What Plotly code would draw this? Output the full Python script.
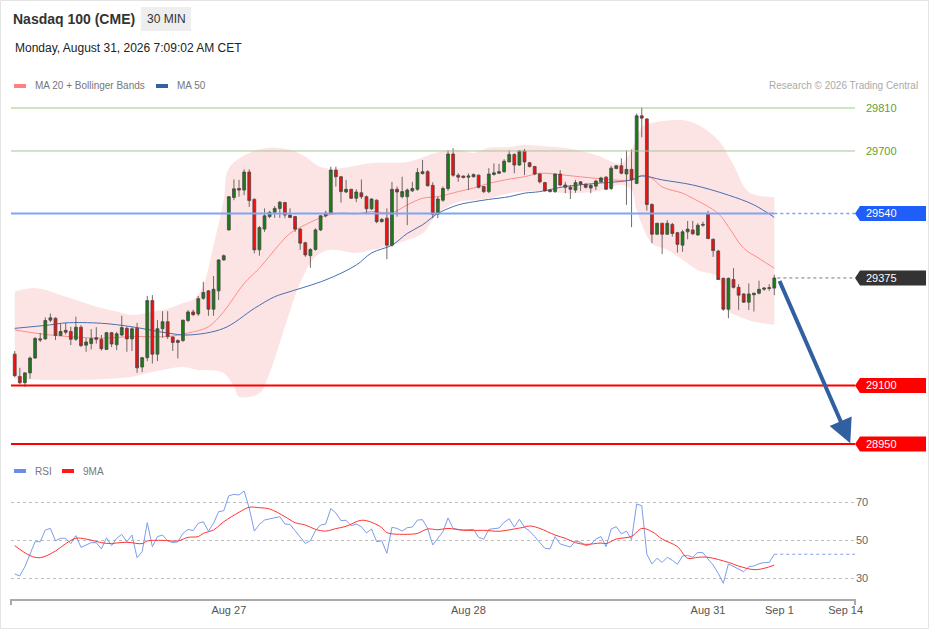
import plotly.graph_objects as go

# ---- data (30 min bars, Nasdaq 100 futures) ----
opens = [29180, 29123, 29107, 29132, 29170, 29216, 29219, 29267, 29272, 29228,
         29241, 29238, 29218, 29249, 29203, 29207, 29222, 29218, 29192, 29235,
         29204, 29229, 29246, 29219, 29246, 29147, 29171, 29317, 29180, 29245,
         29263, 29224, 29215, 29215, 29266, 29288, 29283, 29323, 29342, 29295,
         29342, 29421, 29498, 29581, 29604, 29600, 29646, 29576, 29447, 29500,
         29532, 29543, 29553, 29568, 29536, 29532, 29500, 29465, 29432, 29448,
         29498, 29534, 29541, 29651, 29634, 29595, 29602, 29579, 29593, 29583,
         29552, 29574, 29519, 29528, 29459, 29602, 29583, 29583, 29598, 29602,
         29642, 29647, 29612, 29538, 29574, 29604, 29692, 29638, 29636, 29633,
         29634, 29638, 29609, 29596, 29640, 29643, 29647, 29672, 29691, 29664,
         29700, 29670, 29660, 29641, 29619, 29596, 29596, 29641, 29613, 29607,
         29600, 29621, 29615, 29605, 29610, 29621, 29633, 29604, 29655, 29662,
         29641, 29653, 29617, 29790, 29782, 29563, 29487, 29515, 29487, 29512,
         29491, 29459, 29493, 29498, 29485, 29510, 29538, 29474, 29444, 29374,
         29295, 29371, 29351, 29334, 29313, 29332, 29336, 29346, 29348, 29349]
highs = [29188, 29145, 29134, 29174, 29224, 29234, 29274, 29284, 29274, 29259,
         29260, 29250, 29276, 29254, 29221, 29244, 29249, 29229, 29237, 29237,
         29237, 29278, 29250, 29249, 29260, 29173, 29329, 29331, 29267, 29290,
         29290, 29225, 29218, 29268, 29293, 29294, 29329, 29365, 29344, 29380,
         29423, 29435, 29585, 29627, 29626, 29653, 29653, 29579, 29508, 29553,
         29547, 29559, 29572, 29570, 29553, 29534, 29502, 29468, 29451, 29502,
         29536, 29547, 29660, 29660, 29636, 29626, 29603, 29602, 29627, 29586,
         29579, 29576, 29528, 29553, 29621, 29609, 29634, 29604, 29621, 29656,
         29677, 29651, 29620, 29583, 29609, 29702, 29707, 29643, 29637, 29643,
         29642, 29640, 29610, 29656, 29668, 29667, 29679, 29702, 29694, 29702,
         29705, 29672, 29662, 29643, 29621, 29602, 29643, 29651, 29621, 29613,
         29626, 29623, 29617, 29615, 29626, 29634, 29636, 29662, 29664, 29681,
         29702, 29704, 29796, 29811, 29784, 29566, 29516, 29516, 29523, 29516,
         29493, 29498, 29521, 29521, 29515, 29519, 29547, 29476, 29447, 29376,
         29376, 29400, 29359, 29336, 29361, 29337, 29368, 29352, 29359, 29383]
lows = [29121, 29103, 29096, 29117, 29168, 29211, 29217, 29262, 29216, 29226,
        29230, 29203, 29214, 29198, 29186, 29192, 29207, 29189, 29191, 29198,
        29190, 29226, 29186, 29188, 29132, 29134, 29162, 29156, 29162, 29222,
        29219, 29188, 29169, 29211, 29262, 29278, 29278, 29319, 29278, 29278,
        29319, 29419, 29496, 29574, 29583, 29587, 29557, 29438, 29432, 29493,
        29528, 29529, 29529, 29528, 29528, 29493, 29447, 29429, 29401, 29445,
        29495, 29530, 29539, 29609, 29568, 29592, 29577, 29569, 29577, 29538,
        29549, 29515, 29517, 29423, 29455, 29532, 29579, 29510, 29595, 29598,
        29640, 29609, 29528, 29528, 29570, 29598, 29634, 29621, 29630, 29600,
        29632, 29604, 29592, 29592, 29637, 29641, 29644, 29671, 29643, 29662,
        29638, 29658, 29638, 29617, 29596, 29594, 29593, 29610, 29592, 29577,
        29593, 29598, 29604, 29592, 29600, 29619, 29600, 29600, 29653, 29640,
        29562, 29505, 29615, 29735, 29547, 29464, 29485, 29436, 29485, 29481,
        29440, 29442, 29474, 29485, 29483, 29506, 29474, 29429, 29370, 29291,
        29272, 29348, 29293, 29311, 29293, 29289, 29333, 29342, 29342, 29331]
closes = [29125, 29107, 29132, 29170, 29220, 29219, 29266, 29273, 29228, 29238,
          29236, 29218, 29249, 29202, 29211, 29220, 29218, 29194, 29235, 29206,
          29232, 29248, 29219, 29245, 29145, 29171, 29317, 29180, 29245, 29263,
          29225, 29210, 29210, 29267, 29288, 29281, 29322, 29338, 29295, 29346,
          29421, 29432, 29583, 29603, 29600, 29646, 29573, 29447, 29504, 29534,
          29543, 29553, 29569, 29536, 29530, 29500, 29464, 29434, 29448, 29498,
          29534, 29541, 29651, 29634, 29596, 29602, 29579, 29595, 29583, 29552,
          29577, 29519, 29525, 29459, 29602, 29595, 29596, 29600, 29604, 29645,
          29647, 29611, 29538, 29577, 29604, 29692, 29638, 29633, 29632, 29636,
          29640, 29607, 29596, 29641, 29644, 29647, 29674, 29691, 29664, 29700,
          29672, 29660, 29641, 29621, 29598, 29600, 29641, 29613, 29607, 29602,
          29619, 29615, 29607, 29612, 29623, 29631, 29602, 29656, 29662, 29643,
          29653, 29626, 29790, 29784, 29563, 29487, 29515, 29487, 29515, 29489,
          29461, 29493, 29500, 29488, 29510, 29512, 29476, 29445, 29371, 29295,
          29374, 29351, 29331, 29313, 29334, 29336, 29346, 29349, 29350, 29375]
bar_index = list(range(len(closes)))

# moving averages / bands, read at sample bars
ma20_idx = [0, 7, 17, 23, 30, 34, 38, 41, 45, 48, 51, 54, 57, 61, 64, 67, 70, 74, 77, 80,
            83, 87, 90, 93, 97, 100, 103, 108, 114, 121, 123, 125, 127, 131, 133, 138,
            140, 143, 146, 149]
ma20_val = [29242, 29229, 29221, 29225, 29225, 29234, 29250, 29289, 29361, 29400,
            29447, 29489, 29511, 29534, 29541, 29539, 29545, 29542, 29562, 29579,
            29583, 29596, 29605, 29617, 29628, 29634, 29643, 29638, 29630, 29626,
            29638, 29630, 29608, 29592, 29579, 29540, 29506, 29451, 29425, 29400]
ma50_idx = [0, 7, 10, 17, 23, 30, 34, 41, 47, 51, 54, 61, 67, 70, 74, 77, 80, 83, 87,
            90, 93, 97, 100, 103, 108, 114, 121, 123, 127, 133, 140, 145, 149]
ma50_val = [29246, 29255, 29260, 29259, 29250, 29234, 29229, 29246, 29297, 29327,
            29340, 29370, 29408, 29439, 29459, 29489, 29511, 29540, 29562, 29570,
            29576, 29583, 29592, 29596, 29609, 29617, 29626, 29636, 29626, 29613,
            29587, 29562, 29530]
bb_up_idx = [0, 4, 10, 17, 20, 23, 27, 30, 33, 35, 37, 39, 41, 42, 46, 50, 54, 57, 60,
             64, 70, 77, 83, 87, 90, 93, 97, 100, 103, 108, 114, 119, 121, 123, 125,
             131, 134, 138, 141, 144, 149]
bb_up_val = [29340, 29349, 29327, 29298, 29289, 29280, 29289, 29296, 29311, 29319,
             29357, 29459, 29574, 29656, 29695, 29708, 29703, 29685, 29659, 29656,
             29669, 29672, 29697, 29703, 29695, 29708, 29710, 29715, 29713, 29708,
             29690, 29669, 29703, 29761, 29772, 29779, 29767, 29728, 29664, 29595,
             29582]
bb_lo_idx = [0, 7, 17, 23, 27, 33, 36, 38, 41, 43, 44, 48, 50, 53, 56, 59, 62, 67, 70,
             74, 77, 80, 83, 87, 90, 93, 97, 100, 103, 108, 114, 119, 121, 122, 125,
             128, 131, 134, 138, 139, 144, 149]
bb_lo_val = [29116, 29114, 29116, 29122, 29134, 29147, 29139, 29139, 29132, 29097,
             29071, 29080, 29132, 29250, 29362, 29429, 29447, 29439, 29447, 29459,
             29472, 29489, 29540, 29570, 29574, 29579, 29592, 29596, 29598, 29592,
             29596, 29613, 29600, 29549, 29464, 29447, 29421, 29395, 29377, 29301,
             29267, 29255]

rsi = [32.1, 31.1, 36.0, 42.1, 49.1, 49.1, 55.3, 56.1, 49.6, 50.9,
       50.9, 48.1, 52.3, 46.1, 47.4, 48.6, 48.6, 45.3, 51.2, 47.0,
       50.9, 53.0, 49.1, 52.6, 40.7, 43.9, 59.1, 46.5, 51.8, 52.6,
       49.6, 48.6, 49.1, 53.5, 55.6, 54.9, 58.8, 59.6, 54.7, 58.8,
       64.9, 65.4, 73.3, 74.0, 73.7, 75.8, 66.7, 54.7, 58.2, 60.5,
       61.1, 61.6, 62.3, 58.4, 58.2, 54.9, 51.4, 48.2, 49.6, 54.9,
       57.9, 58.4, 66.5, 64.2, 60.2, 60.4, 57.5, 58.4, 57.0, 53.7,
       55.8, 49.1, 49.6, 43.0, 56.7, 56.1, 54.7, 56.5, 56.8, 60.5,
       60.7, 56.1, 47.4, 50.9, 54.4, 61.6, 56.1, 55.6, 55.3, 55.4,
       55.6, 51.4, 50.4, 55.6, 56.0, 56.3, 59.3, 61.2, 56.8, 60.9,
       56.7, 54.7, 51.8, 48.8, 45.6, 45.3, 51.8, 47.9, 47.2, 46.3,
       49.5, 48.8, 47.0, 47.7, 50.5, 51.8, 46.5, 55.8, 57.0, 53.2,
       54.7, 50.2, 68.9, 68.1, 42.5, 37.4, 40.4, 38.2, 40.9, 39.3,
       37.2, 41.6, 41.9, 40.9, 43.5, 43.3, 40.0, 36.8, 32.5, 27.2,
       37.4, 36.0, 34.7, 33.3, 36.0, 36.3, 37.5, 38.1, 38.2, 42.5]
rsi_ma_idx = [0, 3, 5, 8, 10, 12, 14, 18, 22, 25, 26, 29, 32, 34, 36, 37, 39, 41, 44,
              46, 48, 50, 53, 55, 57, 59, 61, 63, 65, 68, 70, 72, 73, 77, 79, 81, 83,
              85, 88, 92, 95, 98, 100, 101, 103, 106, 108, 110, 112, 115, 116, 118,
              121, 123, 125, 127, 130, 132, 134, 136, 140, 142, 145, 147, 149]
rsi_ma_val = [47.0, 41.8, 40.7, 44.2, 48.1, 50.9, 50.5, 48.2, 48.8, 48.1, 49.5, 49.8,
              49.5, 51.4, 51.8, 53.5, 55.3, 59.6, 64.6, 67.2, 67.0, 66.3, 62.3, 59.1,
              57.9, 55.6, 54.7, 56.0, 57.2, 60.4, 59.3, 56.5, 53.9, 53.0, 53.5, 55.8,
              55.4, 56.1, 55.1, 55.1, 54.6, 55.8, 56.8, 57.4, 56.1, 52.6, 50.9, 48.6,
              47.7, 48.4, 48.1, 50.5, 51.9, 56.1, 54.4, 50.5, 46.5, 40.4, 40.9, 40.9,
              38.2, 36.3, 34.4, 35.1, 36.8]

tick_labels = ["Aug 27", "Aug 28", "Aug 31", "Sep 1", "Sep 14"]
tick_index = [42, 89, 136, 150, 163]

resistances = [29810, 29700]
pivot = 29540
supports = [29100, 28950]
last_price = closes[-1]

# ---- layout helpers (pixel -> paper) ----
W, H = 929, 629
ML, MR, MB = 11, 74, 30
PW = W - ML - MR
PH = H - MB
X_RANGE = [-0.73, 164.83]


def px(x):
    return (x - ML) / PW


def py(y):
    return (PH - y) / PH


FONT = "Liberation Sans, Arial, sans-serif"
last_i = bar_index[-1]
p_top = 29810 + (108 - 95) * 2.5595
p_bot = 28950 - (455 - 444) * 2.5595

fig = go.Figure()

# bollinger band area
fig.add_trace(go.Scatter(x=bb_lo_idx, y=bb_lo_val, mode="lines", line=dict(width=0, shape="spline"),
                         hoverinfo="skip", showlegend=False))
fig.add_trace(go.Scatter(x=bb_up_idx, y=bb_up_val, mode="lines", line=dict(width=0, shape="spline"),
                         fill="tonexty", fillcolor="rgba(252,205,205,0.55)", hoverinfo="skip",
                         showlegend=False))
fig.add_trace(go.Scatter(x=ma20_idx, y=ma20_val, mode="lines",
                         line=dict(color="#ff8c8c", width=1, shape="spline"), showlegend=False))
fig.add_trace(go.Scatter(x=ma50_idx, y=ma50_val, mode="lines",
                         line=dict(color="#4a6fb0", width=1, shape="spline"), showlegend=False))

# candles on an overlay axis so they sit above the band fill
fig.add_trace(go.Candlestick(
    x=bar_index, open=opens, high=highs, low=lows, close=closes, xaxis="x3", yaxis="y3",
    increasing=dict(line=dict(color="#4d4646", width=0.8), fillcolor="#177d17"),
    decreasing=dict(line=dict(color="#4d4646", width=0.8), fillcolor="#f01010"),
    whiskerwidth=0, showlegend=False))

# RSI panel
fig.add_trace(go.Scatter(x=bar_index, y=rsi, mode="lines", xaxis="x2", yaxis="y2",
                         line=dict(color="#7d9ceb", width=1), showlegend=False))
fig.add_trace(go.Scatter(x=[last_i, X_RANGE[1]], y=[rsi[-1], rsi[-1]], mode="lines",
                         xaxis="x2", yaxis="y2", line=dict(color="#7d9ceb", width=1, dash="dot"),
                         showlegend=False))
fig.add_trace(go.Scatter(x=rsi_ma_idx, y=rsi_ma_val, mode="lines", xaxis="x2", yaxis="y2",
                         line=dict(color="#ff3333", width=1, shape="spline"), showlegend=False))

shapes = []
annotations = []

# horizontal levels
for lv, lc in zip(resistances, ["#9ccf7c", "#a9c39a"]):
    shapes.append(dict(type="line", xref="paper", yref="y", x0=0, x1=1, y0=lv, y1=lv,
                       line=dict(color=lc, width=1)))
    annotations.append(dict(xref="paper", yref="y", x=px(864), y=lv, xanchor="left",
                            yanchor="middle", showarrow=False, text=str(lv),
                            font=dict(color="#5ea12e", size=11, family=FONT)))
shapes.append(dict(type="line", xref="x", yref="y", x0=X_RANGE[0], x1=last_i, y0=pivot, y1=pivot,
                   line=dict(color="#7ea5f5", width=2)))
shapes.append(dict(type="line", xref="x", yref="y", x0=last_i, x1=X_RANGE[1], y0=pivot, y1=pivot,
                   line=dict(color="#7ea5f5", width=1.5, dash="dot")))
shapes.append(dict(type="line", xref="x", yref="y", x0=last_i + 0.6, x1=X_RANGE[1], y0=last_price,
                   y1=last_price, line=dict(color="#777777", width=1, dash="dot")))
for lv in supports:
    shapes.append(dict(type="line", xref="paper", yref="y", x0=0, x1=1, y0=lv, y1=lv,
                       line=dict(color="#ff0000", width=2)))

# price tags on the right
half = 7.5 * 2.5595
for lv, col in [(pivot, "#1f5ef8"), (last_price, "#333333"), (supports[0], "#ff0000"),
                (supports[1], "#ff0000")]:
    x0, x1, x2 = px(855), px(860), px(926)
    shapes.append(dict(type="path", xref="paper", yref="y", fillcolor=col, line=dict(width=0),
                       path=f"M {x0},{lv} L {x1},{lv + half} L {x2},{lv + half} "
                            f"L {x2},{lv - half} L {x1},{lv - half} Z"))
    annotations.append(dict(xref="paper", yref="y", x=px(864), y=lv, xanchor="left",
                            yanchor="middle", showarrow=False, text=str(lv),
                            font=dict(color="white", size=11, family=FONT)))

# projected move arrow, from the last bar down to the lower target
annotations.append(dict(xref="x", yref="y", axref="x", ayref="y", x=163.9, y=supports[1] + 2,
                        ax=last_i + 0.9, ay=last_price - 4, text="", showarrow=True, arrowhead=2,
                        arrowsize=1.2, arrowwidth=4, arrowcolor="#30609f"))

# header
annotations.append(dict(xref="paper", yref="paper", x=px(11), y=py(19), xanchor="left",
                        yanchor="middle", showarrow=False, text="<b>Nasdaq 100 (CME)</b>",
                        font=dict(color="#333333", size=14, family=FONT)))
shapes.append(dict(type="rect", xref="paper", yref="paper", x0=px(141), x1=px(191), y0=py(31),
                   y1=py(7), fillcolor="#eeeeee", line=dict(width=0)))
annotations.append(dict(xref="paper", yref="paper", x=px(166), y=py(19), xanchor="center",
                        yanchor="middle", showarrow=False, text="30 MIN",
                        font=dict(color="#333333", size=12, family=FONT)))
annotations.append(dict(xref="paper", yref="paper", x=px(13), y=py(48), xanchor="left",
                        yanchor="middle", showarrow=False,
                        text="Monday, August 31, 2026 7:09:02 AM CET",
                        font=dict(color="#222222", size=12, family=FONT)))

# legends
for x0, col, txt, yy in [(14, "#ff8080", "MA 20 + Bollinger Bands", 86), (156, "#3461a4", "MA 50", 86),
                         (14, "#6a8ee8", "RSI", 471), (62, "#ff1a1a", "9MA", 471)]:
    shapes.append(dict(type="rect", xref="paper", yref="paper", x0=px(x0), x1=px(x0 + 12),
                       y0=py(yy + 2), y1=py(yy - 2), fillcolor=col, line=dict(width=0)))
    annotations.append(dict(xref="paper", yref="paper", x=px(x0 + 19), y=py(yy), xanchor="left",
                            yanchor="middle", showarrow=False, text=txt,
                            font=dict(color="#777777", size=10, family=FONT)))
annotations.append(dict(xref="paper", yref="paper", x=px(920), y=py(86), xanchor="right",
                        yanchor="middle", showarrow=False, text="Research © 2026 Trading Central",
                        font=dict(color="#aaaaaa", size=10, family=FONT)))

# axis end ticks and frame
for xe in (0, 1):
    shapes.append(dict(type="line", xref="paper", yref="paper", x0=xe, x1=xe, y0=py(599), y1=py(605),
                       line=dict(color="#aaaaaa", width=2)))
shapes.append(dict(type="rect", xref="paper", yref="paper", x0=px(0.5), x1=px(928.5), y0=py(628.5),
                   y1=py(0.5), line=dict(color="#e3e3e3", width=1)))

fig.update_layout(
    width=W, height=H, margin=dict(l=ML, r=MR, t=0, b=MB),
    paper_bgcolor="white", plot_bgcolor="white", showlegend=False,
    font=dict(family=FONT), boxgap=0.2,
    xaxis=dict(range=X_RANGE, domain=[0, 1], anchor="y", showticklabels=False, showgrid=False,
               zeroline=False, showline=False, rangeslider=dict(visible=False), fixedrange=True),
    yaxis=dict(range=[p_bot, p_top], domain=[py(455), py(95)], showticklabels=False, showgrid=False,
               zeroline=False, fixedrange=True),
    xaxis3=dict(range=X_RANGE, overlaying="x", anchor="y3", visible=False,
                rangeslider=dict(visible=False), fixedrange=True),
    yaxis3=dict(range=[p_bot, p_top], overlaying="y", anchor="x3", visible=False, fixedrange=True),
    xaxis2=dict(range=X_RANGE, domain=[0, 1], anchor="y2", showgrid=False, zeroline=False,
                showline=True, linecolor="#aaaaaa", linewidth=2, ticks="",
                tickvals=tick_index, ticktext=tick_labels,
                tickfont=dict(color="#555555", size=11, family=FONT)),
    yaxis2=dict(range=[30 - 21 / 1.9, 70 + 17 / 1.9], domain=[0, py(485)], side="right",
                tickvals=[30, 50, 70], showgrid=True, gridcolor="#bdbdbd", griddash="dot",
                gridwidth=1, zeroline=False, ticks="",
                tickfont=dict(color="#666666", size=11, family=FONT)),
    shapes=shapes, annotations=annotations,
)

# page has the default body margin, drop it so the figure sits at the top-left corner
fig.write_html("out.html", config={"displayModeBar": False},
               post_script="document.body.style.margin='0px';")
